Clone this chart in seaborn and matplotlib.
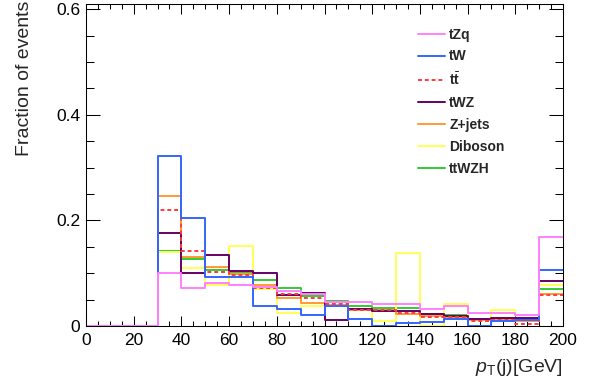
import numpy as np
import pandas as pd
import matplotlib
matplotlib.use("Agg")
import matplotlib.pyplot as plt
from matplotlib.lines import Line2D
from matplotlib.ticker import MultipleLocator, FuncFormatter
import seaborn as sns

# Jet pT binning: 20 bins of 10 GeV from 0 to 200
bin_edges = list(range(0, 201, 10))
bin_centers = [e + 5 for e in bin_edges[:-1]]

samples = ["tZq", "tW", "t$\\bar{\\mathbf{t}}$", "tWZ", "Z+jets", "Diboson", "ttWZH"]

frac_tZq = [0, 0, 0, 0.100, 0.072, 0.082, 0.077, 0.074, 0.067, 0.060,
            0.046, 0.046, 0.042, 0.042, 0.032, 0.037, 0.024, 0.024, 0.021, 0.168]
frac_tW = [0, 0, 0, 0.322, 0.204, 0.092, 0.092, 0.037, 0.033, 0.021,
           0.038, 0.014, 0.0, 0.006, 0.008, 0.014, 0.0, 0.009, 0.012, 0.106]
frac_tt = [0, 0, 0, 0.219, 0.1415, 0.102, 0.096, 0.072, 0.060, 0.0525,
           0.0417, 0.030, 0.030, 0.024, 0.0177, 0.017, 0.010, 0.0114, 0.004, 0.058]
frac_tWZ = [0, 0, 0, 0.176, 0.100, 0.1346, 0.105, 0.101, 0.059, 0.063,
            0.0114, 0.032, 0.028, 0.028, 0.0234, 0.018, 0.0142, 0.0145, 0.015, 0.0853]
frac_Zjets = [0, 0, 0, 0.246, 0.130, 0.111, 0.099, 0.078, 0.053, 0.043,
              0.040, 0.031, 0.030, 0.023, 0.019, 0.016, 0.011, 0.012, 0.010, 0.060]
frac_Diboson = [0, 0, 0, 0.141, 0.110, 0.0786, 0.1517, 0.070, 0.024, 0.0385,
                0.040, 0.030, 0.0095, 0.139, 0.0, 0.0423, 0.012, 0.0297, 0.0215, 0.078]
frac_ttWZH = [0, 0, 0, 0.143, 0.126, 0.107, 0.101, 0.088, 0.0714, 0.056,
              0.0474, 0.038, 0.034, 0.034, 0.0227, 0.020, 0.012, 0.013, 0.011, 0.0707]

fractions = [frac_tZq, frac_tW, frac_tt, frac_tWZ, frac_Zjets, frac_Diboson, frac_ttWZH]
colors = ["#ff80ff", "#3366ff", "#ff3b3b", "#660066", "#ff9933", "#ffff55", "#33cc33"]
dashed = [False, False, True, False, False, False, False]

sns.set_theme(style="ticks")
plt.rcParams["font.family"] = ["Liberation Sans", "DejaVu Sans"]
plt.rcParams["mathtext.fontset"] = "custom"
plt.rcParams["mathtext.rm"] = "Liberation Sans"
plt.rcParams["mathtext.it"] = "Liberation Sans:italic"
plt.rcParams["mathtext.bf"] = "Liberation Sans:bold"

fig = plt.figure(figsize=(5.94, 3.85), dpi=100)
ax = fig.add_axes([86 / 594, 59 / 385, 477 / 594, 322.5 / 385])

lw = 1.4
dash_pattern = (2.0, 1.5)
# draw the last legend entry first so tZq ends up on top
for name, vals, col, dsh in reversed(list(zip(samples, fractions, colors, dashed))):
    df = pd.DataFrame({"pt": bin_centers, "frac": vals})
    n_before = len(ax.lines)
    sns.histplot(data=df, x="pt", weights="frac", bins=bin_edges, element="step",
                 fill=False, color=col, linewidth=lw, ax=ax)
    if dsh:
        for line in ax.lines[n_before:]:
            line.set_dashes(dash_pattern)

ax.set_xlim(0, 200)
ax.set_ylim(0, 0.611)

ax.xaxis.set_major_locator(MultipleLocator(20))
ax.xaxis.set_minor_locator(MultipleLocator(5))
ax.yaxis.set_major_locator(MultipleLocator(0.2))
ax.yaxis.set_minor_locator(MultipleLocator(0.05))
ax.yaxis.set_major_formatter(FuncFormatter(lambda v, p: "0" if abs(v) < 1e-9 else f"{v:.1f}"))

ax.tick_params(axis="both", which="both", direction="in", top=True, right=True,
               width=0.75, colors="black", labelsize=12.5)
ax.tick_params(axis="x", which="major", length=7.2, pad=5)
ax.tick_params(axis="x", which="minor", length=3.6)
ax.tick_params(axis="y", which="major", length=10, pad=4)
ax.tick_params(axis="y", which="minor", length=5.8)
for s in ax.spines.values():
    s.set_linewidth(0.75)
    s.set_color("black")

ax.set_xlabel("$p_{\\mathrm{T}}$(j)[GeV]", fontsize=14, loc="right", labelpad=6.5)
ax.set_ylabel("Fraction of events", fontsize=14)
ax.yaxis.label.set_rotation_mode("default")
ax.yaxis.label.set_horizontalalignment("center")
ax.yaxis.label.set_verticalalignment("top")
ax.yaxis.set_label_coords((25 - 86) / 477, (326 - 1) / 322.5)

handles = [Line2D([], [], color=c, linewidth=lw, dashes=dash_pattern if d else (None, None))
           for c, d in zip(colors, dashed)]
ax.legend(handles, samples, loc="upper left", bbox_to_anchor=(418 / 594, 1 - 27.5 / 385),
          bbox_transform=fig.transFigure, frameon=False,
          prop={"size": 10, "weight": "bold"},
          handlelength=1.95, handletextpad=0.3, labelspacing=0.575, borderpad=0,
          borderaxespad=0)

fig.savefig("out.png", dpi=100)
